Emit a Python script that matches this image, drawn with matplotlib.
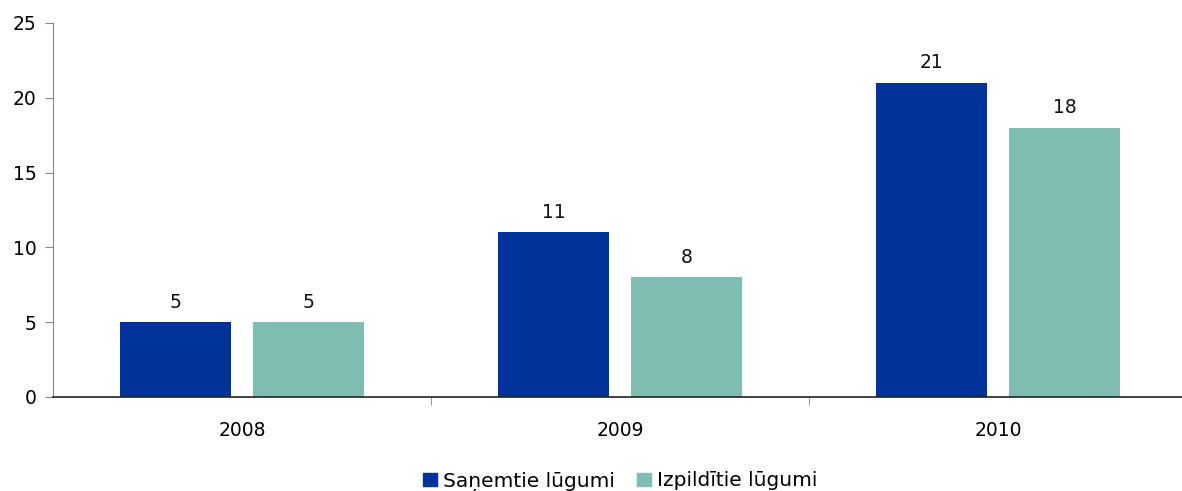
import matplotlib
matplotlib.use("Agg")
import matplotlib.pyplot as plt
import numpy as np
from matplotlib.patches import Patch

years = ["2008", "2009", "2010"]
received = [5, 11, 21]
fulfilled = [5, 8, 18]
series_names = ["Saņemtie lūgumi", "Izpildītie lūgumi"]
colors = ["#003399", "#7FBCB2"]

plt.rcParams["font.family"] = ["DejaVu Sans"]
fig = plt.figure(figsize=(11.82, 4.91), dpi=100)
ax = fig.add_axes([53 / 1182, 1 - 397 / 491, 1134 / 1182, (397 - 23) / 491])

x = np.arange(len(years))
w = 0.294
off = 0.176
b1 = ax.bar(x - off, received, w, color=colors[0])
b2 = ax.bar(x + off, fulfilled, w, color=colors[1])
for bars, vals in ((b1, received), (b2, fulfilled)):
    for r, v in zip(bars, vals):
        ax.text(r.get_x() + r.get_width() / 2, v + 0.7, str(v),
                ha="center", va="bottom", fontsize=13.5, color="#111111")

ax.set_xlim(-0.5, 2.5)
ax.set_ylim(0, 25)
ax.set_yticks([0, 5, 10, 15, 20, 25])
ax.set_xticks(x)
ax.set_xticklabels(years)
ax.set_xticks([0.5, 1.5], minor=True)
ax.tick_params(axis="x", which="major", length=0, pad=17, labelsize=13.5)
ax.tick_params(axis="x", which="minor", length=6, color="#888888", direction="out")
ax.tick_params(axis="y", length=6, color="#888888", labelsize=13.5, pad=6)

for s in ("top", "right"):
    ax.spines[s].set_visible(False)
ax.spines["left"].set_color("#888888")
ax.spines["bottom"].set_color("#222222")
ax.spines["bottom"].set_linewidth(1.2)

handles = [Patch(color=colors[0]), Patch(color=colors[1])]
fig.legend(handles, series_names, loc="center", bbox_to_anchor=(620 / 1182, 1 - 481.5 / 491),
           ncol=2, frameon=False, fontsize=14.5, handlelength=0.68, handleheight=0.68,
           handletextpad=0.3, columnspacing=1.1)

fig.savefig("out.png", dpi=100)
